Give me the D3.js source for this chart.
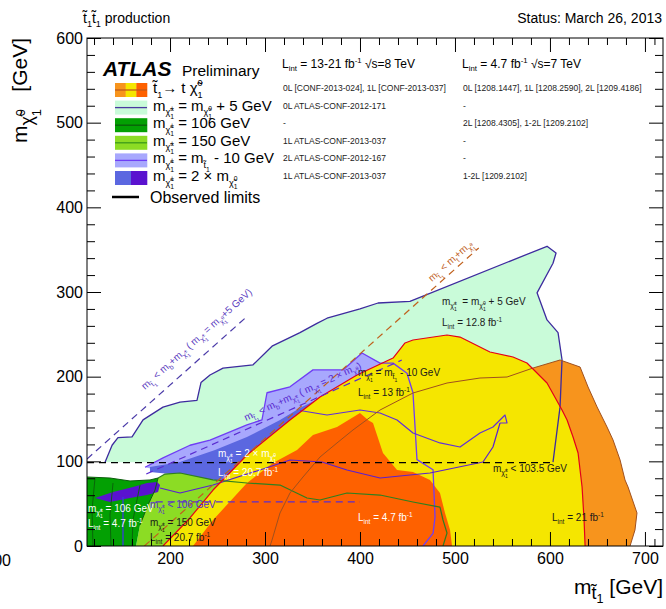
<!DOCTYPE html>
<html><head><meta charset="utf-8">
<script src="https://d3js.org/d3.v7.min.js"></script>
<style>
body{margin:0;background:#fff}
svg{display:block}
text{font-family:"Liberation Sans",Arial,Helvetica,sans-serif;white-space:pre}
</style>
</head><body>
<svg id="c" width="666" height="609"></svg>
<script>
// ---------------- DATA (GeV) ----------------
const xMajor = [200, 300, 400, 500, 600, 700];
const yMajor = [0, 100, 200, 300, 400, 500, 600];
const xMinor = [120,140,160,180,220,240,260,280,320,340,360,380,420,440,460,480,520,540,560,580,620,640,660,680,710];
const yMinor = [20,40,60,80,120,140,160,180,220,240,260,280,320,340,360,380,420,440,460,480,520,540,560,580];

// m(chi+-) = m(chi0)+5 GeV, 12.8 fb-1
const lightGreenRegion = [[131.6,99],[139,119],[145.2,128],[160,129],[171.6,149],[192.6,164],[210.5,170],[228.4,172],[232.6,193],[242.1,202],[255.8,210],[287.4,214],[307.4,236],[336.8,252],[354.7,263],[365.3,269],[400,280],[419,287],[452.6,289],[596.9,354],[606.4,346],[603.2,334],[586.4,299],[596.9,267],[608.5,252],[612.7,220],[610.6,164],[603.2,99]];
// m(chi+-) = m(stop) - 10 GeV, 13 fb-1
const violetEdge = [[173.7,93],[192.6,104],[221,119],[242.1,125],[281,143],[296.8,149],[302.1,181],[326.3,188],[350.5,208],[382.1,208],[402.1,228],[421.1,216],[434.8,216],[449.5,204],[455.8,181],[460,102],[476.9,90],[479,34],[476.9,15],[466.3,0]];
const violetClose = [[337,0],[232,78]];
// m(chi+-) = 2 x m(chi0), 20.7 fb-1
const darkBlueRegion = [[178.9,93.3],[210.5,99.2],[247.4,113.4],[281,128.7],[315.8,148.8],[336.8,163],[357.9,174.8],[379,186.6],[384.2,125.2],[284.2,72],[210.5,83.9],[178.9,87.4]];
const twoXUpper = [[336.8,160],[365.3,154.7],[400,160.6],[421.1,157.1],[439,148.8],[455.8,133.5],[484.2,121.7],[505.3,116.9],[526.3,133.5],[540,140.5],[547.4,148.8],[552.7,154.7],[554.8,145.3],[547.4,145.3]];
// m(chi+-) = 2 x m(chi0), 4.7 fb-1
const darkPurpleBlob = [[121,56.7],[140,63.8],[161,69.7],[175.8,74.4],[186.3,75.6],[189.5,72],[187.4,63.8],[175.8,60.2],[157.9,56.7],[136.8,52]];
const twoXLower = [[189.5,68.5],[210.5,62.6],[245.3,72],[294.7,89.8],[326.3,101.6],[360,99.2],[386.3,89.8],[421.1,80.3],[473.7,86.2],[529.5,99.2],[540,116.9],[547.4,145.3]];
// m(chi+-) = 150 GeV, 20.7 fb-1
const limeRegion = [[164.2,0],[168.4,24.8],[176.8,48.4],[184.2,66.1],[187.4,80.3],[194.7,85],[210.5,86.2],[245.3,78],[281,74.4],[315.8,72],[344.2,56.7],[357.9,54.3],[386.3,62.6],[421.1,60.2],[455.8,52],[484.2,46],[487.4,30.7],[491.6,15.4],[487.4,0]];
// m(chi+-) = 106 GeV, 4.7 fb-1
const darkGreenRegion = [[112.6,0],[112.6,81.5],[136.8,80.3],[157.9,76.8],[178.9,78],[187.4,80.3],[184.2,66.1],[176.8,48.4],[168.4,24.8],[164.2,0]];
const greenCurve1 = [[121,80],[117.9,42.5],[118.9,0]];
const greenCurve2 = [[140,74.4],[136.8,36.6],[137.9,0]];
const greenCurve3 = [[168.4,72],[161,30.7],[160,0]];
const blueVertical = [[150.5,58],[150.5,0]];
// stop -> t chi0
const yellowEdge = [[192.6,0],[221,33.1],[245.3,66.1],[281,107.5],[326.3,148.8],[357.9,176],[396.8,202],[434.8,222],[447.4,239.8],[455.8,243.3],[491.6,249.2],[505.3,246.8],[536.8,229.1],[561.1,223.2],[575.8,216.1],[596.9,192.5],[612.7,160.6],[618,148.8],[624.3,128.7],[629.6,109.8],[633.8,69.7],[635.9,30.7],[637,0]];
const redOrangeRegion = [[224.2,0],[245.3,30.7],[281,74.4],[308.4,98],[333.7,113.4],[350.5,131.1],[375.8,140.5],[400,157.1],[408.4,148.8],[413.7,145.3],[424.2,109.8],[439,89.8],[455.8,87.4],[473.7,78],[484.2,62.6],[489.5,39],[494.8,18.9],[496.9,0]];
const brownLine = [[305.3,0],[307.4,7.1],[315.8,39],[326.3,62.6],[340,81.5],[357.9,105.1],[375.8,121.7],[392.6,137],[421.1,160.6],[455.8,180.7],[491.6,192.5],[526.3,198.4],[554.8,199.6],[582.2,210.2],[610.6,219.7]];
const orangeRight = [[631.7,211.4],[640.1,187.8],[649.6,164.2],[660.1,140.5],[666.4,125.2],[673.8,101.6],[679,78],[682.2,69.7],[691.6,39],[689.5,18.9],[684.3,0]];
// reference lines
const lepLine = [[112.6,98.5],[600,98.5]];
const lep2xLine = [[185,52],[400,52]];
const kinA = [[112.6,102.8],[282,272]];
const kin2x = [[175,85.1],[444,219.6]];
const kinTop = [[173,0],[525,352]];

const col1Rows = ["0L [CONF-2013-024], 1L [CONF-2013-037]","0L ATLAS-CONF-2012-171","-","1L ATLAS-CONF-2013-037","2L ATLAS-CONF-2012-167","1L ATLAS-CONF-2013-037"];
const col2Rows = ["0L [1208.1447], 1L [1208.2590], 2L [1209.4186]","-","2L [1208.4305], 1-2L [1209.2102]","-","-","1-2L [1209.2102]"];

// ---------------- helpers ----------------
const C = {lg:'#c9fbd9', vio:'#a8a8fd', blue:'#5b67e0', purp:'#5a12cf', dg:'#03a003', lime:'#8cdc24', yel:'#f5e600', ro:'#fe6100', lo:'#f7941d'};
const svg = d3.select('#c');
const x = d3.scaleLinear().domain([112.6, 719]).range([87, 663]);
const y = d3.scaleLinear().domain([0, 600]).range([546, 38]);
svg.append('defs').append('clipPath').attr('id','clip').append('rect')
  .attr('x',87).attr('y',38).attr('width',576).attr('height',508);
const gPlot = svg.append('g').attr('clip-path','url(#clip)');
const ln = d3.line().x(d=>x(d[0])).y(d=>y(d[1]));
function fillPoly(pts,col){ gPlot.append('path').attr('d',ln(pts)+'Z').attr('fill',col); }
function drawLine(pts,col,w,dash){ const p=gPlot.append('path').attr('d',ln(pts)).attr('fill','none').attr('stroke',col).attr('stroke-width',w).attr('stroke-linejoin','round'); if(dash) p.attr('stroke-dasharray',dash); return p; }

function rich(parent,px,py,tokens,fs,attrs){
  const t=parent.append('text').attr('x',px).attr('y',py).attr('font-size',fs);
  if(attrs) for(const k in attrs) t.attr(k,attrs[k]);
  let cur=0, prev=null;
  tokens.forEach(tok=>{
    const [s,off,sc,back]=tok;
    const sp=t.append('tspan').text(s).attr('font-size',(fs*(sc||1)).toFixed(2));
    const d=(off-cur)*fs; if(d!==0) sp.attr('dy',d.toFixed(2));
    if(back && prev) sp.attr('dx',(-prev.node().getComputedTextLength()).toFixed(2));
    cur=off; prev=sp;
  });
  return t;
}
const CHI='\u03C7\u0303', ST='t\u0303';
const mChiPM=()=>[['m',0,1],[CHI,0.3,0.7],['\u00B1',0.0,0.5],['1',0.55,0.5,true]];
const mChi0=()=>[['m',0,1],[CHI,0.3,0.7],['0',0.0,0.5],['1',0.55,0.5,true]];
const mStop=()=>[['m',0,1],[ST,0.3,0.7],['1',0.55,0.5]];
const lint=v=>[['L',0,1],['int',0.25,0.65],[' = '+v+' fb',0,1],['-1',-0.4,0.65]];

// ---------------- regions ----------------
fillPoly(lightGreenRegion,C.lg);
fillPoly(brownLine.concat(orangeRight),C.lo);
fillPoly(violetEdge.concat(violetClose),C.vio);
fillPoly(darkBlueRegion,C.blue);
fillPoly(limeRegion,C.lime);
fillPoly(darkGreenRegion,C.dg);
fillPoly(darkPurpleBlob,C.purp);
fillPoly(yellowEdge,C.yel);
fillPoly(redOrangeRegion,C.ro);

// ---------------- lines ----------------
drawLine(lightGreenRegion,'#3d2b9e',1.3);
drawLine(violetEdge,'#6f3df5',1.3);
drawLine(twoXUpper,'#6030d8',1.2);
drawLine(twoXLower,'#5a20d0',1.2);
drawLine(limeRegion.slice(4),'#2f7f1f',1.2);
drawLine(darkGreenRegion.slice(1,9),'#0b5d0b',1);
[greenCurve1,greenCurve2,greenCurve3].forEach(c=>drawLine(c,'#0b5d0b',0.9));
drawLine(blueVertical,'#3a3ae0',1.3);
drawLine(brownLine.concat(orangeRight),'#a0501e',1);
drawLine(yellowEdge,'#e3001b',1.2);
drawLine(lepLine,'#000',1.2,'7,5');
drawLine(lep2xLine,'#5a2cd0',1.2,'7,5');
drawLine(kinA,'#4a3aa8',1.2,'7,5');
drawLine(kin2x,'#5a2cd0',1.2,'7,5');
drawLine(kinTop,'#c0601c',1.2,'7,5');

// ---------------- in-plot labels ----------------
const gL = svg.append('g');
const dark='#1a1a1a', pur='#5a2cd0';
rich(gL,442,305,[...mChiPM(),['  = ',0,1],...mChi0(),[' + 5 GeV',0,1]],10,{fill:dark});
rich(gL,442,326,lint('12.8'),10,{fill:dark});
rich(gL,358,376,[...mChiPM(),[' = ',0,1],...mStop(),[' - 10 GeV',0,1]],10,{fill:dark});
rich(gL,358,396,lint('13'),10,{fill:dark});
rich(gL,218,457,[...mChiPM(),[' = 2 \u00D7 ',0,1],...mChi0()],10,{fill:'#fff'});
rich(gL,218,476,lint('20.7'),10,{fill:'#fff'});
rich(gL,88,512,[...mChiPM(),[' = 106 GeV',0,1]],10,{fill:'#fff'});
rich(gL,88,527,lint('4.7'),10,{fill:'#fff'});
rich(gL,150,508,[...mChiPM(),[' < 106 GeV',0,1]],10,{fill:pur});
rich(gL,150,526,[...mChiPM(),[' = 150 GeV',0,1]],10,{fill:dark});
rich(gL,150,541,lint('20.7'),10,{fill:dark});
rich(gL,358,521,lint('4.7'),10,{fill:'#fff'});
rich(gL,552,521,lint('21'),10,{fill:dark});
rich(gL,493,472,[...mChiPM(),[' < 103.5 GeV',0,1]],10,{fill:dark});
// rotated kinematic labels
rich(gL,0,0,[...mStop(),[' < ',0,1],['m',0,1],['b',0.3,0.7],['+',0,1],...mChiPM(),[' ( ',0,1],...mChiPM(),[' = ',0,1],...mChi0(),['+5 GeV)',0,1]],10,{fill:'#5a3cc0',transform:'translate(145,390) rotate(-42)'});
rich(gL,0,0,[...mStop(),[' < ',0,1],['m',0,1],['b',0.3,0.7],['+',0,1],...mChiPM(),[' ( ',0,1],...mChiPM(),[' = 2 \u00D7 ',0,1],...mChi0(),[')',0,1]],10,{fill:'#5a2cd0',transform:'translate(246,421) rotate(-24.5)'});
rich(gL,0,0,[...mStop(),[' < ',0,1],['m',0,1],['t',0.3,0.7],['+',0,1],...mChi0()],10,{fill:'#c0601c',transform:'translate(432,282) rotate(-42)'});

// ---------------- axes ----------------
const gA = svg.append('g').attr('font-size',16);
function styleAx(g){ g.select('.domain').remove(); g.selectAll('line').attr('stroke','#000'); g.selectAll('text').attr('fill','#000').attr('font-size',16).attr('font-family','"Liberation Sans",Arial,sans-serif'); }
gA.append('g').attr('transform','translate(0,546)').call(d3.axisBottom(x).tickValues(xMajor).tickSize(-14).tickPadding(7).tickFormat(d3.format('d'))).call(styleAx);
gA.append('g').attr('transform','translate(0,546)').call(d3.axisBottom(x).tickValues(xMinor).tickSize(-7).tickFormat('')).call(styleAx);
gA.append('g').attr('transform','translate(0,38)').call(d3.axisTop(x).tickValues(xMajor).tickSize(-14).tickFormat('')).call(styleAx);
gA.append('g').attr('transform','translate(0,38)').call(d3.axisTop(x).tickValues(xMinor).tickSize(-7).tickFormat('')).call(styleAx);
gA.append('g').attr('transform','translate(87,0)').call(d3.axisLeft(y).tickValues(yMajor).tickSize(-14).tickPadding(4).tickFormat(d3.format('d'))).call(styleAx);
gA.append('g').attr('transform','translate(87,0)').call(d3.axisLeft(y).tickValues(yMinor).tickSize(-8).tickFormat('')).call(styleAx);
gA.append('g').attr('transform','translate(663,0)').call(d3.axisRight(y).tickValues(yMajor).tickSize(-14).tickFormat('')).call(styleAx);
gA.append('g').attr('transform','translate(663,0)').call(d3.axisRight(y).tickValues(yMinor).tickSize(-8).tickFormat('')).call(styleAx);
svg.append('rect').attr('x',87).attr('y',38).attr('width',576).attr('height',508).attr('fill','none').attr('stroke','#000').attr('stroke-width',1);
svg.append('text').attr('x',11).attr('y',566).attr('text-anchor','end').attr('font-size',16).text('100');

// axis titles
rich(svg,0,0,[['m',0,1],[CHI,0.3,0.85],['0',-0.1,0.6],['1',0.65,0.6,true],['   [GeV]',0,1]],21,{'text-anchor':'end',transform:'translate(27,38) rotate(-90)'});
rich(svg,663,594,[['m',0,1],[ST,0.25,0.85],['1',0.45,0.6],[' [GeV]',0,1]],21,{'text-anchor':'end'});

// header
rich(svg,83,23,[[ST,0,1],['1',0.3,0.65],[ST,0,1],['1',0.3,0.65],[' production',0,1]],14,{fill:'#000'});
svg.append('text').attr('x',662).attr('y',23).attr('text-anchor','end').attr('font-size',14).text('Status: March 26, 2013');

// ---------------- legend ----------------
const gLeg = svg.append('g');
gLeg.append('text').attr('x',103).attr('y',76).attr('font-size',21).attr('font-weight','bold').attr('font-style','italic').text('ATLAS');
gLeg.append('text').attr('x',182).attr('y',76).attr('font-size',15.5).text('Preliminary');
rich(gLeg,282,68,[...lint('13-21'),[' \u221As=8 TeV',0,1]],12,{fill:'#000'});
rich(gLeg,462,68,[...lint('4.7'),[' \u221As=7 TeV',0,1]],12,{fill:'#000'});
const boxC = [90,107.6,125.2,142.8,160.4,178];
const boxFills = [[C.lo,C.yel,C.ro],[C.lg],[C.dg],[C.lime],[C.vio],[C.blue,C.purp]];
const boxLines = ['#c05a1a','#4a3aa0','#0b5d0b','#3d9a1a','#6f3df5',null];
const legLabels = [
  [[ST,0,1],['1',0.3,0.6],['\u2192 t ',0,1],[CHI,0,1],['0',-0.45,0.6],['1',0.3,0.6,true]],
  [['m',0,1],[CHI,0.3,0.6],['\u00B1',0.0,0.45],['1',0.55,0.45,true],[' = ',0,1],['m',0,1],[CHI,0.3,0.6],['0',0.0,0.45],['1',0.55,0.45,true],[' + 5 GeV',0,1]],
  [['m',0,1],[CHI,0.3,0.6],['\u00B1',0.0,0.45],['1',0.55,0.45,true],[' = 106 GeV',0,1]],
  [['m',0,1],[CHI,0.3,0.6],['\u00B1',0.0,0.45],['1',0.55,0.45,true],[' = 150 GeV',0,1]],
  [['m',0,1],[CHI,0.3,0.6],['\u00B1',0.0,0.45],['1',0.55,0.45,true],[' = ',0,1],['m',0,1],[ST,0.3,0.6],['1',0.55,0.45],[' - 10 GeV',0,1]],
  [['m',0,1],[CHI,0.3,0.6],['\u00B1',0.0,0.45],['1',0.55,0.45,true],[' = 2 \u00D7 ',0,1],['m',0,1],[CHI,0.3,0.6],['0',0.0,0.45],['1',0.55,0.45,true]]
];
boxC.forEach((c,i)=>{
  const f=boxFills[i], w=32/f.length;
  f.forEach((col,j)=>gLeg.append('rect').attr('x',115+j*w).attr('y',c-7).attr('width',w+0.3).attr('height',14).attr('fill',col));
  if(boxLines[i]) gLeg.append('line').attr('x1',115).attr('x2',147).attr('y1',c).attr('y2',c).attr('stroke',boxLines[i]).attr('stroke-width',1.3);
  rich(gLeg,153,c+3,legLabels[i],15,{fill:'#000'});
  gLeg.append('text').attr('x',283).attr('y',c+1).attr('font-size',8.5).attr('fill','#222').text(col1Rows[i]);
  gLeg.append('text').attr('x',463).attr('y',c+1).attr('font-size',8.5).attr('fill','#222').text(col2Rows[i]);
});
gLeg.append('line').attr('x1',112).attr('x2',139).attr('y1',197).attr('y2',197).attr('stroke','#000').attr('stroke-width',2.5);
gLeg.append('text').attr('x',150).attr('y',203).attr('font-size',16).text('Observed limits');
</script>
</body></html>
